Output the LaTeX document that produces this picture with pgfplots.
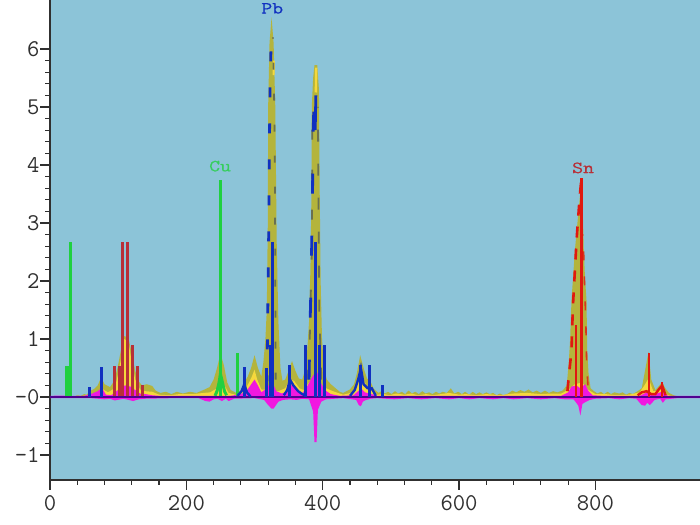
\documentclass[border=0pt]{standalone}
\usepackage{pgfplots}
\usepackage{fontspec}
\pgfplotsset{compat=1.18}
\newfontfamily\lab[FakeStretch=1.25,FakeBold=0.6]{Latin Modern Mono}
\definecolor{bgc}{HTML}{8CC4D8}
\definecolor{oli}{HTML}{B4B43C}
\definecolor{yel}{HTML}{F5D83C}
\definecolor{mag}{HTML}{F018E0}
\definecolor{blu}{HTML}{1030C0}
\definecolor{dkr}{HTML}{B83038}
\definecolor{red2}{HTML}{E01810}
\definecolor{grn}{HTML}{20D040}
\definecolor{pur}{HTML}{500090}
\definecolor{dko}{HTML}{6A7050}
\definecolor{axc}{HTML}{303030}
\begin{document}
\begin{tikzpicture}[x=1bp,y=1bp]
\useasboundingbox (0,0) rectangle (700,525);
\begin{axis}[
  at={(50bp,45bp)},anchor=south west,
  scale only axis,width=650bp,height=480bp,
  xmin=0,xmax=953.5,ymin=-1.431,ymax=6.845,
  axis x line=bottom,axis y line=left,
  axis line style={-,color=axc,line width=1.5bp},
  axis background/.style={fill=bgc},
  xtick={0,200,400,600,800},
  xticklabels={0,200,400,600,800},
  ytick={-1,0,1,2,3,4,5,6},
  yticklabels={-1,-0,1,2,3,4,5,6},
  minor x tick num=4,minor y tick num=4,
  tick align=outside,
  major tick length=10bp,minor tick length=5bp,
  tick style={color=axc,line width=1.2bp},
  tick label style={font=\ttfamily\fontsize{24bp}{28bp}\selectfont,color=axc},
  x tick label style={yshift=-2bp},
  y tick label style={xshift=3bp},
  clip=true,
  no markers,
]
% olive envelope
\addplot[fill=oli,draw=none] coordinates {
(34,0)(40,.03)(45,.02)(50,.05)(54,.04)(58,.1)(65,.14)(70,.2)(75,.34)(80,.22)(88,.17)(94,.27)(99,.5)(104,.8)(109,1.05)(115,1.02)(120,.75)(125,.45)(130,.27)(135,.2)(142,.22)(150,.19)(155,.11)(162,.07)(170,.09)(178,.05)(186,.09)(195,.06)(205,.09)(215,.07)(225,.12)(234,.17)(240,.3)(245,.5)(250,.75)(255,.55)(260,.25)(265,.12)(275,.06)(280,.12)(285,.25)(290,.35)(295,.5)(300,.72)(305,.5)(310,.35)(313,.6)(316,1)(318,1.5)(319.5,3)(320,5)(322,6.1)(325,6.55)(328,6.1)(330.5,5)(332.5,2.7)(335,1.3)(338,.5)(341,.28)(345,.3)(350,.45)(355,.62)(360,.45)(365,.32)(370,.3)(373,.42)(376,.55)(380,1.3)(382,2.2)(383.5,3.5)(384,5)(386,5.5)(388,5.72)(392,5.72)(394.5,5.3)(395.5,3.7)(397,2)(399,1)(402,.5)(406,.3)(412,.22)(416,.18)(420,.14)(425,.09)(430,.07)(440,.13)(446,.22)(450,.4)(455,.72)(460,.5)(465,.32)(470,.27)(475,.14)(482,.07)(486,.1)(491,.06)(496,.09)(501,.05)(506,.1)(511,.06)(516,.09)(521,.05)(526,.11)(531,.06)(536,.09)(541,.05)(546,.1)(551,.06)(556,.08)(561,.05)(566,.09)(571,.06)(576,.09)(582,.07)(588,.15)(593,.06)(599,.09)(604,.05)(609,.09)(615,.04)(620,.09)(625,.05)(630,.08)(635,.05)(640,.08)(645,.05)(650,.07)(655,.03)(660,.06)(665,.03)(672,.06)(678,.11)(684,.08)(690,.12)(696,.09)(702,.13)(708,.08)(714,.11)(720,.07)(726,.11)(732,.07)(738,.1)(744,.08)(752,.11)(758,.2)(761,.6)(763,1)(765,1.67)(770,2.53)(776,3.3)(780,3.77)(782,3)(783,2.53)(785,2)(787,1.67)(788,.81)(790,.4)(793,.15)(798,.1)(803,.06)(808,.09)(813,.05)(818,.09)(823,.05)(828,.08)(835,.06)(840,.08)(845,.04)(850,.07)(855,.05)(862,.1)(868,.15)(872,.4)(878,.78)(882,.3)(888,.12)(894,.2)(898,.26)(902,.16)(908,.07)(915,.03)(925,0)};
% yellow
\addplot[fill=yel,draw=none] coordinates {
(40,0)(60,.04)(70,.08)(75,.15)(85,.08)(95,.15)(100,.4)(105,.7)(109,1)(115,.95)(120,.6)(125,.3)(132,.13)(140,.1)(150,.09)(160,.04)(175,.03)(190,.05)(210,.05)(225,.07)(235,.08)(245,.15)(250,.3)(256,.2)(262,.07)(275,.03)(285,.1)(292,.25)(296,.35)(300,.47)(304,.3)(310,.13)(320,.12)(335,.1)(345,.15)(352,.3)(358,.28)(366,.15)(372,.12)(380,.25)(390,.3)(398,.2)(405,.15)(415,.1)(430,.04)(445,.08)(450,.25)(455,.55)(460,.3)(466,.15)(472,.1)(480,.04)(490,.05)(498,.03)(508,.06)(520,.04)(530,.06)(540,.03)(552,.05)(562,.03)(574,.05)(585,.07)(600,.04)(610,.05)(625,.03)(640,.05)(660,.03)(680,.06)(700,.07)(720,.05)(735,.06)(750,.06)(760,.12)(770,.22)(780,.25)(790,.12)(800,.05)(815,.05)(830,.03)(850,.04)(865,.08)(872,.2)(878,.32)(885,.1)(892,.1)(898,.15)(905,.04)(915,0)};
% yellow flecks on the tall peaks
\addplot[yel,line width=2.4bp] coordinates {(390,5.25)(390.5,5.68)};
\addplot[yel,line width=2bp] coordinates {(328,5.55)(328.5,5.8)};
% magenta, both sides
\addplot[fill=mag,draw=none] coordinates {
(0,.02)(20,.025)(34,.02)(50,.02)(60,.05)(70,.1)(76,.16)(82,.04)(90,.03)(95,.08)(103,.15)(110,.2)(118,.18)(125,.12)(132,.06)(140,.05)(150,.03)(160,.02)(200,.02)(265,.02)(280,.05)(288,.1)(294,.2)(300,.3)(305,.2)(310,.08)(318,.15)(325,.28)(332,.1)(340,.06)(348,.1)(355,.22)(362,.12)(370,.06)(378,.2)(385,.35)(391,.46)(397,.25)(403,.12)(412,.05)(425,.02)(445,.03)(452,.1)(456,.15)(462,.08)(472,.05)(480,.02)(750,.02)(760,.08)(765,.18)(772,.2)(778,.15)(785,.22)(790,.1)(796,.03)(810,.02)(865,.02)(875,.08)(885,.04)(895,.08)(900,.1)(906,.02)(953.5,.02)
(953.5,-.02)(920,-.02)(903,-.04)(899,-.1)(895,-.03)(887,-.05)(880,-.14)(876,-.1)(873,-.15)(868,-.14)(860,-.03)(850,-.02)(835,-.04)(820,-.02)(800,-.03)(792,-.05)(785,-.09)(781,-.12)(778,-.32)(775,-.15)(772,-.1)(768,-.04)(755,-.04)(740,-.02)(720,-.04)(700,-.02)(680,-.04)(665,-.02)(650,-.04)(630,-.02)(615,-.04)(600,-.02)(585,-.04)(565,-.02)(545,-.04)(525,-.02)(505,-.04)(480,-.02)(470,-.03)(462,-.06)(459,-.08)(456,-.16)(453,-.14)(449,-.05)(430,-.02)(405,-.04)(398,-.08)(393,-.22)(391,-.78)(388,-.78)(386,-.25)(380,-.04)(370,-.03)(362,-.05)(352,-.04)(342,-.05)(335,-.08)(328,-.2)(325,-.2)(320,-.14)(314,-.05)(300,-.02)(270,-.03)(262,-.07)(258,-.03)(252,-.07)(246,-.03)(240,-.04)(234,-.08)(228,-.07)(218,-.02)(180,-.02)(140,-.03)(130,-.04)(122,-.07)(115,-.05)(108,-.03)(95,-.06)(88,-.03)(80,-.04)(70,-.03)(60,-.02)(40,-.02)(30,-.02)(15,-.02)(0,-.02)};
% green
\addplot[grn,line width=3bp,ycomb] coordinates {(24.8,.53)(27.3,.53)(29.8,2.68)(249.5,3.74)(274.5,.75)};
\addplot[grn,line width=3bp] coordinates {(242,.02)(245,.1)(248,.25)(250,.4)(253,.25)(256,.1)(259,.03)};
% dark red spikes
\addplot[dkr,line width=2.8bp,ycomb] coordinates {(95,.53)(102,.53)(106.6,2.68)(114,2.68)(121,.9)(128.6,.53)(136,.2)};
% baseline
\addplot[pur,line width=1.8bp] coordinates {(0,0)(953.5,0)};
% dashed envelopes on the tall peaks
\addplot[blu,line width=2.8bp,dash pattern=on 10bp off 26bp] coordinates {(318,.2)(319,1)(320,2)(321,3)(322,4.5)(323,5.5)(325,6.35)};
\addplot[dko,line width=1.8bp,dash pattern=on 7bp off 24bp] coordinates {(331,.3)(330.5,2)(330,3.5)(329,5)(327,6.2)};
\addplot[dko,line width=1.8bp,dash pattern=on 10bp off 30bp] coordinates {(378,.3)(381,1)(384,2.5)(385,5)};
\addplot[blu,line width=2.8bp,dash pattern=on 20bp off 42bp] coordinates {(380,.3)(381,1)(383,2)(385,3.4)(386,4.6)(388,5.3)};
\addplot[blu,line width=2.8bp] coordinates {(389,4.6)(390,5.2)};
\addplot[dko,line width=1.8bp,dash pattern=on 12bp off 22bp] coordinates {(398,.3)(395,1.5)(394,3)(393,5)};
% dark blue low curves and spikes
\addplot[blu,line width=2.4bp] coordinates {(275,.02)(281,.1)(285,.22)(289,.08)(294,.01)};
\addplot[blu,line width=2.4bp] coordinates {(343,.03)(348,.12)(352,.3)(357,.2)(364,.1)(370,.05)(376,.02)};
\addplot[blu,line width=2.4bp] coordinates {(440,.02)(447,.12)(452,.3)(456,.5)(460,.22)(466,.15)(472,.15)(478,.02)};
\addplot[blu,line width=3bp,ycomb] coordinates {(58,.18)(75,.52)(285,.52)(317,.5)(324,.9)(327,2.67)(351,.55)(375.5,.9)(390,2.67)(396,.9)(403,.9)(456,.55)(468,.55)(488,.2)};
% red Sn
\addplot[red2,line width=2.6bp,dash pattern=on 11bp off 11bp] coordinates {(759,.1)(761,.35)(765,.8)(767,1.55)(772.6,2.74)(777,3.45)(779,3.7)};
\addplot[red2!80!oli,line width=1.6bp,dash pattern=on 9bp off 16bp] coordinates {(789,.2)(787,.7)(786,1.3)(784,2)(782,2.8)};
\addplot[red2,line width=2.6bp,ycomb] coordinates {(771.6,1.24)(780,3.77)(878.7,.76)(898,.26)};
\addplot[red2,line width=2.4bp] coordinates {(862,.03)(868,.08)(875,.1)(882,.05)(888,.05)(893,.13)(898,.2)(903,.03)};
% element labels
\node[font=\lab\fontsize{17bp}{20bp}\selectfont,color=blu] at (axis cs:326,6.7) {Pb};
\node[font=\lab\fontsize{17bp}{20bp}\selectfont,color=grn!80!bgc] at (axis cs:249.5,3.98) {Cu};
\node[font=\lab\fontsize{17bp}{20bp}\selectfont,color=dkr] at (axis cs:782,3.95) {Sn};
\end{axis}
\end{tikzpicture}
\end{document}
